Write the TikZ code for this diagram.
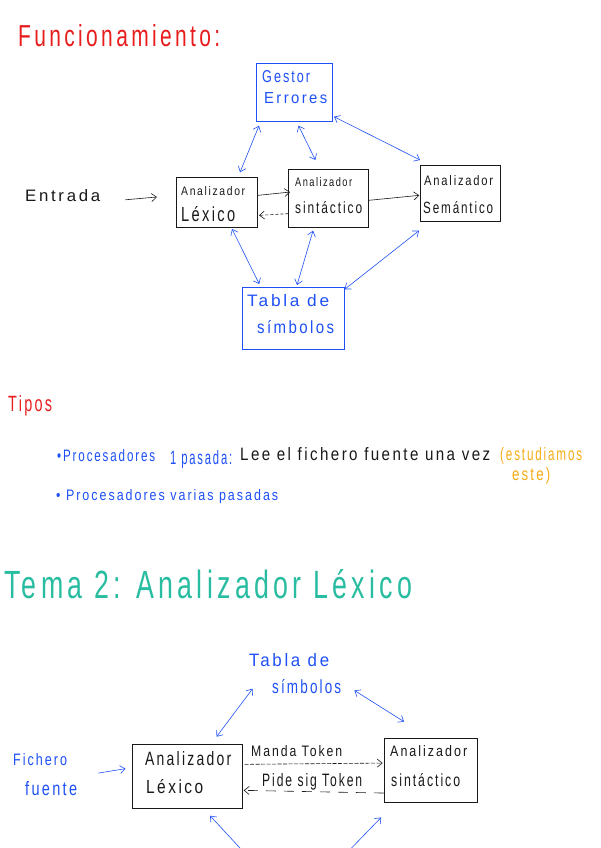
\documentclass[tikz,border=0pt]{standalone}
\usepackage{fontspec}
\setmainfont{Liberation Sans}[LetterSpace=16]
\usepackage{graphicx}
\usetikzlibrary{arrows.meta}
\definecolor{hblue}{RGB}{30,80,245}
\definecolor{hred}{RGB}{232,30,30}
\definecolor{horange}{RGB}{245,172,20}
\definecolor{hteal}{RGB}{40,188,160}
\definecolor{hblack}{RGB}{25,25,25}
% width, ascender height
\newcommand\fw[3]{\resizebox{#1pt}{#2pt}{#3}}
\begin{document}
\begin{tikzpicture}[x=1pt,y=-1pt,
  txt/.style={inner sep=0pt, anchor=base west},
  blkbox/.style={draw=hblack, line width=0.7pt, anchor=north west, inner sep=0pt},
  bluebox/.style={draw=hblue, line width=0.7pt, anchor=north west, inner sep=0pt},
  tip/.tip={Straight Barb[length=5pt,width=8pt]},
  barrow/.style={hblue, line width=0.6pt, tip-tip},
  bsingle/.style={hblue, line width=0.6pt, tip-},
  karrow/.style={hblack, line width=0.6pt, -tip},
]
\useasboundingbox (0,0) rectangle (600,848);
\clip (0,0) rectangle (600,848);

% ---------- Funcionamiento ----------
\node[txt, text=hred] (tfun) at (18,47) {\fw{202}{22}{Funcionamiento:}};

\node[bluebox, minimum width=76.3pt, minimum height=57.7pt] (ges) at (255.7,63.3) {};
\node[txt, text=hblue] (tges1) at (262,83) {\fw{48}{12}{Gestor}};
\node[txt, text=hblue] (tges2) at (264,104) {\fw{63}{11}{Errores}};

\node[blkbox, minimum width=81.6pt, minimum height=50.6pt] (lex) at (175.7,176.7) {};
\node[txt, text=hblack] (tlex1) at (181,195) {\fw{64}{9}{Analizador}};
\node[txt, text=hblack] (tlex2) at (181,221.5) {\fw{54}{15}{Léxico}};

\node[blkbox, minimum width=79.4pt, minimum height=58pt] (sin) at (288.3,169.3) {};
\node[txt, text=hblack] (tsin1) at (295,186.7) {\fw{57}{9}{Analizador}};
\node[txt, text=hblack] (tsin2) at (295,213.3) {\fw{67}{12}{sintáctico}};

\node[blkbox, minimum width=80.6pt, minimum height=56pt] (sem) at (419.7,165) {};
\node[txt, text=hblack] (tsem1) at (424,185) {\fw{69}{10}{Analizador}};
\node[txt, text=hblack] (tsem2) at (423,213.3) {\fw{70}{12}{Semántico}};

\node[bluebox, minimum width=102pt, minimum height=62pt] (tab) at (242.3,287.3) {};
\node[txt, text=hblue] (ttab1) at (247,306.7) {\fw{82}{12}{Tabla de}};
\node[txt, text=hblue] (ttab2) at (257,333) {\fw{77}{13}{símbolos}};

\node[txt, text=hblack] (ent) at (25,201.7) {\fw{75}{12}{Entrada}};
\coordinate (entend) at (157,197);
\draw[karrow] ([shift={(25,4)}]ent.east) -- (entend);

% connectors top
\draw[barrow] ([shift={(3.3,4)}]ges.south west) -- ([shift={(-18,-4.4)}]lex.north east);
\draw[barrow] ([shift={(4.3,4)}]ges.south) -- ([shift={(-13,-9.3)}]sin.north);
\draw[barrow] ([shift={(1.3,-5)}]ges.south east) -- ([shift={(0.3,-5)}]sem.north west);
\draw[karrow] ([shift={(0,-7)}]lex.east) -- ([shift={(1.7,-6.6)}]sin.west);
\draw[karrow, dash pattern=on 3pt off 2pt] ([shift={(0,15)}]sin.west) -- ([shift={(1,13)}]lex.east);
\draw[karrow] ([shift={(0,1.7)}]sin.east) -- ([shift={(-0.4,2)}]sem.west);
\draw[barrow] ([shift={(15.2,1)}]lex.south) -- ([shift={(17,-3.3)}]tab.north west);
\draw[barrow] ([shift={(-15.3,2.7)}]sin.south) -- ([shift={(3.4,-2.3)}]tab.north);
\draw[barrow] ([shift={(-0.7,9)}]sem.south west) -- ([shift={(-0.3,2)}]tab.north east);

% ---------- Tipos ----------
\node[txt, text=hred] (ttipos) at (8,411.7) {\fw{44}{16}{Tipos}};
\node[txt, text=hblue] (p1a) at (57,461.7) {\fw{98}{12}{•Procesadores}};
\node[txt, text=hblue] (p1b) at (170,464) {\fw{62}{14}{1 pasada:}};
\node[txt, text=hblack] (p1c) at (240,460.5) {\fw{250}{13}{Lee el fichero fuente una vez}};
\node[txt, text=horange] (p1d) at (500,460.7) {\fw{82}{13}{(estudiamos}};
\node[txt, text=horange] (p1e) at (512,480.7) {\fw{38}{13}{este)}};
\node[txt, text=hblue] (p2) at (56,500) {\fw{222}{11}{• Procesadores varias pasadas}};

% ---------- Tema 2 ----------
\node[txt, text=hteal] (ttema) at (4,598) {\fw{408}{29}{Tema 2: Analizador Léxico}};

\node[inner sep=0pt, anchor=north west, minimum width=92pt, minimum height=45pt] (tab2) at (249,650) {};
\node[txt, text=hblue] (ttab2a) at (249,666.7) {\fw{80}{13}{Tabla de}};
\node[txt, text=hblue] (ttab2b) at (272,693.3) {\fw{69}{14}{símbolos}};

\node[blkbox, minimum width=109.1pt, minimum height=64pt] (lex2) at (132.4,744.3) {};
\node[txt, text=hblack] (tlex2a) at (145,765) {\fw{86}{14}{Analizador}};
\node[txt, text=hblack] (tlex2b) at (146,793.3) {\fw{57}{14}{Léxico}};

\node[blkbox, minimum width=92.6pt, minimum height=64.6pt] (sin2) at (383.9,737.7) {};
\node[txt, text=hblack] (tsin2a) at (390,756.7) {\fw{77}{11}{Analizador}};
\node[txt, text=hblack] (tsin2b) at (391,786.7) {\fw{69}{13}{sintáctico}};

\node[txt, text=hblue] (fich1) at (13,765) {\fw{54}{12}{Fichero}};
\node[txt, text=hblue] (fich2) at (25,795) {\fw{52}{14}{fuente}};
\draw[bsingle, {}-tip] ([shift={(21,-15)}]fich2.east) -- ([shift={(-6.9,-8)}]lex2.west);

\node[txt, text=hblack] (tmanda) at (251,756.7) {\fw{91}{11}{Manda Token}};
\node[txt, text=hblack] (tpide) at (262,786.7) {\fw{100}{13}{Pide sig Token}};
\draw[karrow, dash pattern=on 4pt off 1.5pt] ([shift={(2.3,-12.3)}]lex2.east) -- ([shift={(-1.2,-7.3)}]sin2.west);
\draw[karrow, dash pattern=on 10pt off 8pt] ([shift={(0,22.7)}]sin2.west) -- ([shift={(1.5,13.7)}]lex2.east);

\draw[barrow] ([shift={(29.25,-7.6)}]lex2.north) -- ([shift={(3.6,-6.7)}]tab2.south west);
\draw[barrow] ([shift={(13,-5)}]tab2.south east) -- ([shift={(-26.5,-16)}]sin2.north);

\coordinate (offa) at (252,861);
\coordinate (offb) at (339,861);
\draw[bsingle] ([shift={(22.75,6.7)}]lex2.south) -- (offa);
\draw[bsingle] ([shift={(-49.4,14.4)}]sin2.south) -- (offb);
\end{tikzpicture}
\end{document}
